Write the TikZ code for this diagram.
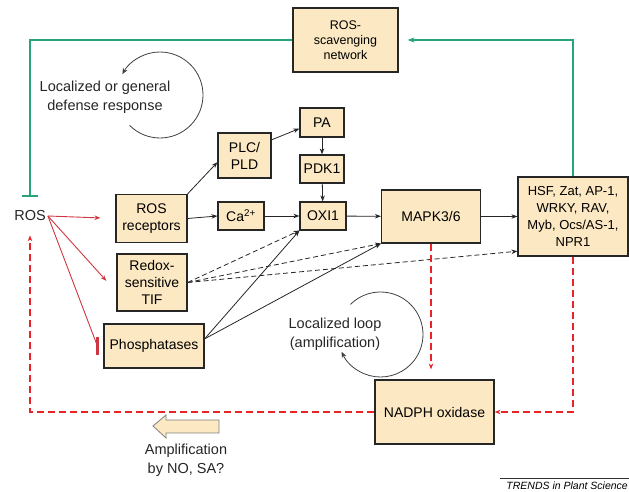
\documentclass[tikz,border=0pt]{standalone}
\usepackage{fontspec}
\setmainfont{Liberation Sans}
\usetikzlibrary{arrows.meta}
\definecolor{boxfill}{RGB}{252,232,194}
\definecolor{scavgreen}{RGB}{38,164,124}
\definecolor{rosred}{RGB}{232,36,40}
\definecolor{linered}{RGB}{205,55,65}

\begin{document}
\begin{tikzpicture}[x=1pt,y=1pt,
  box/.style={draw=black!85, line width=1.2pt, fill=boxfill, align=center, inner sep=0pt, font=\fontsize{14}{17}\selectfont},
  lab/.style={align=center, font=\fontsize{14.5}{19}\selectfont, text=black!85},
  arr/.style={-{Stealth[length=6pt,width=4.5pt]}, black!85, line width=0.8pt},
  darr/.style={arr, dash pattern=on 5pt off 3pt},
  rarr/.style={-{Stealth[length=6pt,width=4.5pt]}, linered, line width=0.9pt},
  rdash/.style={-{Stealth[length=6pt,width=4.5pt]}, rosred, line width=1.2pt, dash pattern=on 7pt off 4pt},
  garr/.style={scavgreen, line width=1.1pt},
  loopline/.style={-{Stealth[length=6pt,width=5pt]}, black!75, line width=0.8pt}]
\useasboundingbox (0,0) rectangle (629,492);

\node[box, minimum width=105, minimum height=64, font=\fontsize{12.5}{15}\selectfont] (scav) at (345.5,452) {ROS-\\scavenging\\network};
\node[box, minimum width=44, minimum height=29] (pa) at (322,369.5) {PA};
\node[box, minimum width=44, minimum height=28] (pdk) at (322,323) {PDK1};
\node[box, minimum width=46, minimum height=28] (oxi) at (323,276) {OXI1};
\node[box, minimum width=53, minimum height=45] (plc) at (244.5,336.5) {PLC/\\PLD};
\node[box, minimum width=71, minimum height=48] (rosrec) at (151.5,273.5) {ROS\\receptors};
\node[box, minimum width=46, minimum height=28] (ca) at (241,276) {Ca\textsuperscript{2+}};
\node[box, minimum width=99, minimum height=53] (mapk) at (431,275.5) {MAPK3/6};
\node[box, minimum width=110, minimum height=79, font=\fontsize{13}{17}\selectfont] (hsf) at (573,275.5) {HSF, Zat, AP-1,\\WRKY, RAV,\\Myb, Ocs/AS-1,\\NPR1};
\node[box, minimum width=70, minimum height=57] (redox) at (152,209.5) {Redox-\\sensitive\\TIF};
\node[box, minimum width=100, minimum height=44] (phos) at (154,146) {Phosphatases};
\node[box, minimum width=119, minimum height=64] (nadph) at (434.5,80) {NADPH oxidase};
\node[lab, inner sep=2pt] (ros) at (30,276) {ROS};

\node[lab] (defense) at (105,395) {Localized or general\\defense response};
\node[lab] (loop) at (335,158) {Localized loop\\(amplification)};
\node[lab] (ampl) at (186,32) {Amplification\\by NO, SA?};

\coordinate (c1) at (160,397);
\draw[loopline] ([shift={(225:43)}]c1) arc[start angle=225, end angle=511, radius=43];
\coordinate (c2) at (380.5,157.5);
\draw[loopline] ([shift={(135:42.5)}]c2) arc[start angle=135, end angle=-156, radius=42.5];

\draw[garr, -{Bar[width=16pt,line width=1.2pt]}, shorten >=12pt] (scav.west) -| (ros.north);
\draw[garr, -{Stealth[length=7pt,width=5pt]}, shorten >=9pt] (hsf.north) |- (scav.east);

\draw[rarr, shorten >=15pt] (ros.east) -- (rosrec.west);
\draw[rarr, shorten >=15pt] (ros.east) -- (redox.195);
\coordinate (phosbar) at ([xshift=-6pt]phos.west);
\draw[linered, line width=0.9pt] (ros.east) -- (phosbar);
\draw[linered, line width=2.5pt] ([yshift=-9pt]phosbar) -- ([yshift=9pt]phosbar);

\draw[arr] (rosrec.north east) -- (plc.194);
\draw[arr] (plc.30) -- (pa.195);
\draw[arr] (pa) -- (pdk);
\draw[arr] (pdk) -- (oxi);
\draw[arr] (rosrec.east) -- (ca.west);
\draw[arr] (ca) -- (oxi);
\draw[arr] (oxi) -- (mapk);
\draw[arr] (mapk) -- (hsf);
\draw[arr] (phos.8) -- (oxi.south west);
\draw[arr] (phos.8) -- (mapk.south west);

\draw[darr] (redox.east) -- (oxi.south west);
\draw[darr] (redox.east) -- (mapk.south west);
\draw[darr] (redox.east) -- (hsf.212);

\draw[rdash, shorten >=10pt] (mapk.south) -- (mapk.south |- nadph.north);
\draw[rdash] (hsf.south) |- (nadph.east);
\draw[rdash, shorten >=12pt] (nadph.west) -| (ros.south);

\draw[black!50, fill=boxfill, line width=0.8pt] (153,66) -- (166,77) -- (166,72) -- (219,72) -- (219,59) -- (166,59) -- (166,54) -- cycle;

\draw[black!80, line width=0.6pt] (500,14) -- (629,14);
\node[anchor=south east, inner sep=1pt, font=\fontsize{10.5}{12}\selectfont\itshape] (trends) at (629,1) {TRENDS in Plant Science};
\end{tikzpicture}
\end{document}
